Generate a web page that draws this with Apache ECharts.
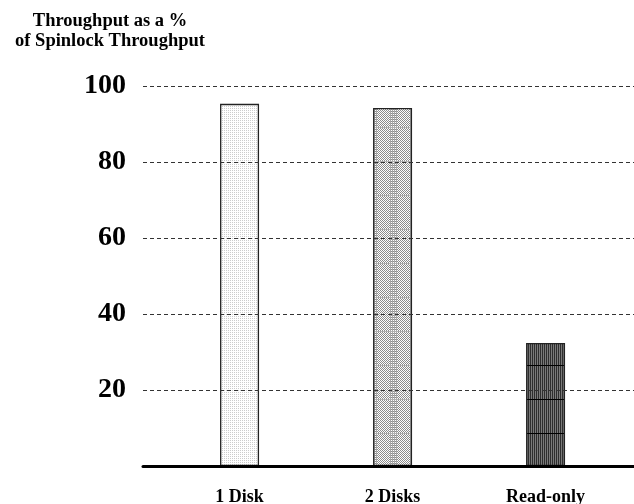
<!DOCTYPE html>
<html>
<head>
<meta charset="utf-8">
<script src="https://cdn.jsdelivr.net/npm/echarts@6/dist/echarts.min.js"></script>
<style>html,body{margin:0;padding:0;background:#fff;}#c{width:634px;height:504px;}</style>
</head>
<body>
<div id="c"></div>
<script>
const categories = ['1 Disk', '2 Disks', 'Read-only'];
const throughput = [95.3, 94.2, 32.4];
const yTicks = [20, 40, 60, 80, 100];
const titleLines = ['Throughput as a %', 'of Spinlock Throughput'];

function makePattern(kind) {
  const cv = document.createElement('canvas');
  const ctx = cv.getContext('2d');
  if (kind === 0) {
    cv.width = 4; cv.height = 4;
    ctx.fillStyle = '#ffffff'; ctx.fillRect(0, 0, 4, 4);
    ctx.fillStyle = '#cccccc';
    ctx.fillRect(0, 0, 1, 1); ctx.fillRect(2, 0, 1, 1);
    ctx.fillRect(0, 2, 1, 1); ctx.fillRect(2, 2, 1, 1);
  } else if (kind === 1) {
    cv.width = 20; cv.height = 34;
    ctx.fillStyle = '#ffffff'; ctx.fillRect(0, 0, 20, 34);
    ctx.fillStyle = '#8c8c8c';
    for (let y = 0; y < 34; y++) for (let x = 0; x < 20; x++) if ((x + y) % 2 === 0) ctx.fillRect(x, y, 1, 1);
    ctx.fillStyle = '#a8a8a8';
    for (let x = 10; x < 18; x += 2) ctx.fillRect(x, 0, 1, 34);
    ctx.fillStyle = '#b0b0b0'; ctx.fillRect(0, 25, 20, 1);
  } else {
    cv.width = 4; cv.height = 34;
    ctx.fillStyle = '#7a7a7a'; ctx.fillRect(0, 0, 4, 34);
    ctx.fillStyle = '#2e2e2e';
    ctx.fillRect(0, 0, 1, 34); ctx.fillRect(2, 0, 1, 34);
    ctx.fillStyle = '#000000'; ctx.fillRect(0, 25, 4, 1);
  }
  return { image: cv, repeat: 'repeat' };
}

const chart = echarts.init(document.getElementById('c'));
const serif = '"Liberation Serif", "DejaVu Serif", serif';
chart.setOption({
  animation: false,
  backgroundColor: '#ffffff',
  title: {
    text: titleLines.join('\n'),
    left: 105, top: 6, textAlign: 'center',
    textStyle: { fontFamily: serif, fontWeight: 'bold', fontSize: 18.5, lineHeight: 20, color: '#000' }
  },
  grid: { left: 143, right: 0, top: 86, bottom: 38, containLabel: false, outerBoundsMode: 'none' },
  xAxis: {
    type: 'value', min: 0.369, max: 3.578,
    z: 4,
    splitLine: { show: false },
    axisTick: { show: false },
    axisLine: { show: true, onZero: false, lineStyle: { color: '#000', width: 3 } },
    axisLabel: {
      customValues: [1, 2, 3],
      formatter: v => categories[Math.round(v) - 1] || '',
      margin: 22,
      fontFamily: serif, fontWeight: 'bold', fontSize: 18, color: '#000'
    }
  },
  yAxis: {
    type: 'value', min: 0, max: 100, interval: 20,
    z: 3,
    axisLine: { show: false }, axisTick: { show: false },
    axisLabel: {
      formatter: v => (yTicks.indexOf(v) >= 0 ? String(v) : ''),
      margin: 17,
      fontFamily: serif, fontWeight: 'bold', fontSize: 28, color: '#000'
    },
    splitLine: { show: true, lineStyle: { color: '#333', width: 1, type: [4, 3] } }
  },
  series: [{
    type: 'bar',
    barWidth: 39,
    z: 2,
    data: categories.map((c, i) => ({
      value: [i + 1, throughput[i]],
      itemStyle: { color: makePattern(i), borderColor: '#222', borderWidth: 1.3 }
    }))
  }]
});
</script>
</body>
</html>
